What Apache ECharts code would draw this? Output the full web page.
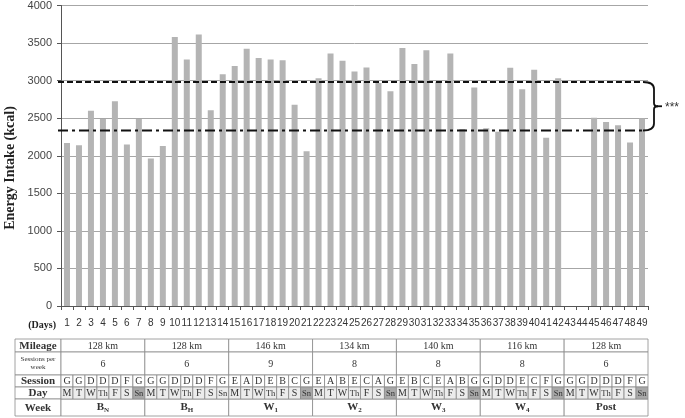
<!DOCTYPE html>
<html><head><meta charset="utf-8">
<script src="https://cdn.jsdelivr.net/npm/echarts@6/dist/echarts.min.js"></script>
<style>html,body{margin:0;padding:0;background:#fff}#c{width:685px;height:418px}</style>
</head><body><div id="c"></div>
<script>
const days = Array.from({length:49},(_, i)=>String(i+1));
const energy = [2170,2140,2600,2490,2725,2150,2490,1965,2130,3580,3280,3615,2605,3085,3195,3425,3300,3280,3270,2680,2060,3030,3360,3265,3120,3175,2970,2860,3435,3220,3405,2985,3360,2355,2910,2365,2320,3170,2885,3145,2240,3030,null,null,2505,2450,2405,2175,2495];
const refLines = [2982, 2336];
const yTicks = {min:0, max:4000, interval:500};
const mileage = ['128 km','128 km','146 km','134 km','140 km','116 km','128 km'];
const sessionsPerWeek = ['6','6','9','8','8','8','6'];
const sessions = ['G','G','D','D','D','F','G','G','G','D','D','D','F','G','E','A','D','E','B','C','G','E','A','B','E','C','A','G','E','B','C','E','A','B','G','G','D','D','E','C','F','G','G','G','D','D','D','F','G'];
const dayNames = ['M','T','W','Th','F','S','Sn'];
const weekMain = ['B','B','W','W','W','W','Post'];
const weekSub = ['N','H','1','2','3','4',''];
const sundayShaded = [true,false,true,true,true,true,true];
const rowLabels = ['Mileage','Sessions per\nweek','Session','Day','Week'];

const chart = echarts.init(document.getElementById('c'));
const serif = 'Liberation Serif';
const sans = 'Liberation Sans';

function linesRender(params, api){
  const cs = params.coordSys;
  const y1 = api.coord([0, refLines[0]])[1];
  const y2 = api.coord([0, refLines[1]])[1];
  const x0 = cs.x - 3, x1 = cs.x + cs.width - 5;
  const bx = x1 + 11, ym = (y1+y2)/2;
  return {type:'group', children:[
    {type:'line', shape:{x1:x0,y1:y1,x2:x1,y2:y1}, style:{stroke:'#111',lineWidth:2,lineDash:[6,3]}},
    {type:'line', shape:{x1:x0,y1:y2,x2:x1,y2:y2}, style:{stroke:'#111',lineWidth:2,lineDash:[10,4,3,4]}},
    {type:'path', shape:{pathData:`M${x1} ${y1} Q${bx} ${y1} ${bx} ${y1+7} L${bx} ${ym-3} Q${bx} ${ym} ${bx+4} ${ym} Q${bx} ${ym} ${bx} ${ym+3} L${bx} ${y2-7} Q${bx} ${y2} ${x1} ${y2}`}, style:{stroke:'#111',lineWidth:1.8,fill:null}},
    {type:'line', shape:{x1:bx+3,y1:ym,x2:bx+8,y2:ym}, style:{stroke:'#111',lineWidth:1.8}},
    {type:'text', x:bx+11, y:ym+1, style:{text:'***', font:'12px '+sans, fill:'#333', textVerticalAlign:'middle'}}
  ]};
}

const rowEdges = [0,13,36,48,60,77];
function tableRender(params, api){
  const bw = api.size([1,0])[0];
  const X = i => api.coord([Math.min(i,48), 0])[0] - bw/2 + (i>48 ? bw*(i-48) : 0);
  const Y = v => api.coord([0, v])[1];
  const ch = [];
  const stroke = '#8a8a8a';
  const xl = X(0) - 46;
  const cell = (xa, xb, ya, yb, fill) => ch.push({type:'rect', shape:{x:xa,y:ya,width:xb-xa,height:yb-ya}, style:{fill:fill||'#fff',stroke:stroke,lineWidth:0.8}});
  const txt = (x, y, t, font, rich) => ch.push({type:'text', x:x, y:y, style:{text:t, font:font, fill:'#333', align:'center', verticalAlign:'middle', rich:rich}});
  for (let r=0;r<5;r++){
    const ya=Y(rowEdges[r]), yb=Y(rowEdges[r+1]);
    cell(xl, X(0), ya, yb);
    if (r===1) ch.push({type:'text', x:(xl+X(0))/2, y:(ya+yb)/2, style:{text:rowLabels[r], font:'7px '+serif, lineHeight:8, fill:'#333', align:'center', verticalAlign:'middle'}});
    else txt((xl+X(0))/2, (ya+yb)/2+0.5, rowLabels[r], 'bold 11px '+serif);
  }
  for (let w=0; w<7; w++){
    const xa = X(w*7), xb = X(w*7+7);
    const xc = (xa+xb)/2;
    cell(xa,xb,Y(rowEdges[0]),Y(rowEdges[1]));
    txt(xc,(Y(rowEdges[0])+Y(rowEdges[1]))/2+0.5, mileage[w], '10px '+serif);
    cell(xa,xb,Y(rowEdges[1]),Y(rowEdges[2]));
    txt(xc,(Y(rowEdges[1])+Y(rowEdges[2]))/2+0.5, sessionsPerWeek[w], '10px '+serif);
    cell(xa,xb,Y(rowEdges[4]),Y(rowEdges[5]));
    const t = weekSub[w] ? `{m|${weekMain[w]}}{s|${weekSub[w]}}` : `{m|${weekMain[w]}}`;
    txt(xc,(Y(rowEdges[4])+Y(rowEdges[5]))/2, t, 'bold 11px '+serif,
      {m:{font:'bold 11px '+serif, fill:'#333'}, s:{font:'bold 7px '+serif, fill:'#333', padding:[6,0,0,0]}});
  }
  for (let d=0; d<49; d++){
    const xa = X(d), xb = X(d+1), xc=(xa+xb)/2;
    cell(xa,xb,Y(rowEdges[2]),Y(rowEdges[3]));
    txt(xc,(Y(rowEdges[2])+Y(rowEdges[3]))/2+0.5, sessions[d], '10px '+serif);
    const dn = d%7, wk = Math.floor(d/7);
    const fill = (dn===6 && sundayShaded[wk]) ? '#a8a8a8' : '#ececec';
    cell(xa,xb,Y(rowEdges[3]),Y(rowEdges[4]), fill);
    txt(xc,(Y(rowEdges[3])+Y(rowEdges[4]))/2+0.5, dayNames[dn], (dn===3||dn===6?'8.5px ':'10px ')+serif);
  }
  return {type:'group', children:ch};
}

chart.setOption({
  animation:false,
  grid:[
    {left:61, right:37, top:5, bottom:112},
    {left:61, right:37, top:339, height:77}
  ],
  xAxis:[
    {type:'category', gridIndex:0, data:days, boundaryGap:true,
     axisLine:{lineStyle:{color:'#555'}},
     axisTick:{show:true, interval:0, length:4, lineStyle:{color:'#555'}},
     axisLabel:{interval:0, margin:12, fontFamily:sans, fontSize:10, color:'#333'}},
    {type:'category', gridIndex:1, data:days, show:false}
  ],
  yAxis:[
    {type:'value', gridIndex:0, min:yTicks.min, max:yTicks.max, interval:yTicks.interval,
     axisLine:{show:true, lineStyle:{color:'#555'}},
     axisTick:{show:true, length:4, lineStyle:{color:'#555'}},
     splitLine:{lineStyle:{color:'#a6a6a6', width:1}},
     axisLabel:{margin:9, fontFamily:sans, fontSize:11, color:'#444', formatter:v=>String(v)}},
    {type:'value', gridIndex:1, min:0, max:77, inverse:true, show:false}
  ],
  graphic:[
    {type:'text', x:10, y:168, rotation:Math.PI/2, style:{text:'Energy Intake (kcal)', font:'bold 14px '+serif, fill:'#222', align:'center', verticalAlign:'middle'}},
    {type:'text', x:56, y:325, style:{text:'(Days)', font:'bold 10px '+serif, fill:'#222', align:'right', verticalAlign:'middle'}}
  ],
  series:[
    {type:'bar', xAxisIndex:0, yAxisIndex:0, data:energy, barWidth:6, itemStyle:{color:'#b4b4b4'}, z:2},
    {type:'custom', xAxisIndex:0, yAxisIndex:0, data:[[0,0]], renderItem:linesRender, z:5, silent:true},
    {type:'custom', xAxisIndex:1, yAxisIndex:1, data:[[0,0]], renderItem:tableRender, z:5, silent:true, clip:false}
  ]
});
</script></body></html>
